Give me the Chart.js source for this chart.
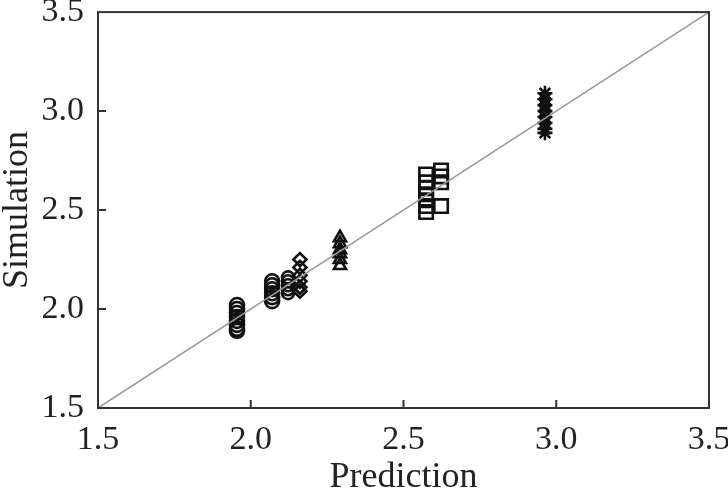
<!DOCTYPE html>
<html><head><meta charset="utf-8">
<script src="https://cdn.jsdelivr.net/npm/chart.js@4.4.1/dist/chart.umd.min.js"></script>
<style>html,body{margin:0;padding:0;background:#fff;}#wrap{width:728px;height:496px;}</style>
</head><body><div id="wrap"><canvas id="c" width="728" height="496"></canvas></div>
<script>
const xTicks = [1.5, 2.0, 2.5, 3.0, 3.5];
const yTicks = [1.5, 2.0, 2.5, 3.0, 3.5];
const lineX = [1.5, 3.5];
const lineY = [1.5, 3.5];

const circA_x = 1.955;
const circA_y = [2.02, 2.00, 1.98, 1.96, 1.94, 1.92, 1.90, 1.89];
const circB_x = 2.07;
const circB_y = [2.14, 2.12, 2.10, 2.08, 2.06, 2.04];
const circC_x = 2.122;
const circC_y = [2.16, 2.14, 2.12, 2.10, 2.08];
const diam_x = 2.161;
const diam_y = [2.25, 2.21, 2.17, 2.14, 2.11, 2.09];
const tri_x = 2.292;
const tri_y = [2.36, 2.33, 2.30, 2.28, 2.25, 2.22];
const sqA_x = 2.574;
const sqA_y = [2.68, 2.64, 2.61, 2.58, 2.55, 2.52, 2.49];
const sqB_x = 2.623;
const sqB_y = [2.70, 2.67, 2.64, 2.52];
const star_x = 2.963;
const star_y = [3.09, 3.06, 3.03, 3.00, 2.97, 2.94, 2.91, 2.89];

const pts = (x, ys) => ys.map(y => ({x: x, y: y}));
const mk = (x, ys, style, r) => ({
  type: 'scatter', data: pts(x, ys), pointStyle: style, pointRadius: r, pointHoverRadius: r,
  borderColor: '#111', backgroundColor: 'rgba(0,0,0,0)', pointBorderWidth: 2.6, borderWidth: 2.6
});

const frame = {
  id: 'frame',
  afterDraw(chart) {
    const {ctx, chartArea: a, scales} = chart;
    ctx.save();
    ctx.strokeStyle = '#333';
    ctx.lineWidth = 2;
    ctx.strokeRect(a.left, a.top, a.right - a.left, a.bottom - a.top);
    ctx.beginPath();
    xTicks.slice(1, -1).forEach(v => {
      const px = scales.x.getPixelForValue(v);
      ctx.moveTo(px, a.bottom); ctx.lineTo(px, a.bottom - 8);
    });
    yTicks.slice(1, -1).forEach(v => {
      const py = scales.y.getPixelForValue(v);
      ctx.moveTo(a.left, py); ctx.lineTo(a.left + 8, py);
    });
    ctx.stroke();
    ctx.restore();
  }
};

new Chart(document.getElementById('c'), {
  data: {
    datasets: [
      {type: 'line', data: lineX.map((x, i) => ({x: x, y: lineY[i]})), borderColor: '#9a9a9a', borderWidth: 1.5, pointRadius: 0, fill: false},
      mk(circA_x, circA_y, 'circle', 7),
      mk(circB_x, circB_y, 'circle', 7),
      mk(circC_x, circC_y, 'circle', 6),
      mk(diam_x, diam_y, 'rectRot', 6.5),
      mk(tri_x, tri_y, 'triangle', 7),
      mk(sqA_x, sqA_y, 'rect', 9.5),
      mk(sqB_x, sqB_y, 'rect', 9.5),
      mk(star_x, star_y, 'star', 7.5)
    ]
  },
  options: {
    responsive: false, animation: false,
    layout: {padding: {left: 0, top: 9, right: 19, bottom: 0}},
    plugins: {legend: {display: false}, tooltip: {enabled: false}},
    scales: {
      x: {
        type: 'linear', min: 1.5, max: 3.5,
        afterBuildTicks: s => { s.ticks = xTicks.map(v => ({value: v})); },
        afterFit: s => { s.height = 88; s.paddingLeft = 0; s.paddingRight = 0; },
        grid: {display: false, drawTicks: false},
        border: {display: false},
        ticks: {padding: 12, color: '#222', font: {family: 'Liberation Serif', size: 34}, maxRotation: 0,
                callback: v => Number(v).toFixed(1)},
        title: {display: true, text: 'Prediction', color: '#222', padding: {top: 0, bottom: 0},
                font: {family: 'Liberation Serif', size: 36, lineHeight: 1}}
      },
      y: {
        type: 'linear', min: 1.5, max: 3.5,
        afterBuildTicks: s => { s.ticks = yTicks.map(v => ({value: v})); },
        afterFit: s => { s.width = 98; s.paddingTop = 0; s.paddingBottom = 0; },
        grid: {display: false, drawTicks: false},
        border: {display: false},
        ticks: {padding: 14, color: '#222', font: {family: 'Liberation Serif', size: 34},
                callback: v => Number(v).toFixed(1)},
        title: {display: true, text: 'Simulation', color: '#222', padding: {top: 0, bottom: 0},
                font: {family: 'Liberation Serif', size: 36, lineHeight: 1}}
      }
    }
  },
  plugins: [frame]
});
</script></body></html>
